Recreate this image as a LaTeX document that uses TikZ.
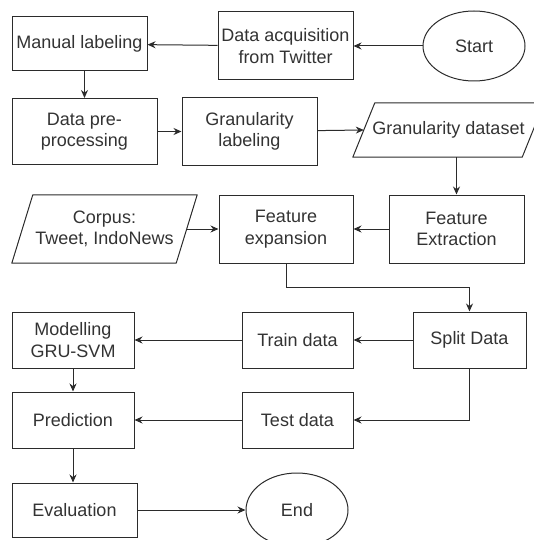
\documentclass[tikz,border=0pt]{standalone}
\usepackage{xcolor}
\usepackage{fontspec}
\setmainfont{Liberation Sans}
\usepackage{tikz}
\usetikzlibrary{calc,arrows.meta,shapes.geometric}
\definecolor{line}{HTML}{2B2B2B}
\definecolor{txt}{HTML}{333333}
\tikzset{
  box/.style={draw=line, line width=1pt, fill=white, text=txt, align=center,
    inner sep=0pt, font=\fontsize{18}{21.5}\selectfont},
  term/.style={box, ellipse},
  io/.style={text=txt, align=center, inner sep=0pt, font=\fontsize{18}{21.5}\selectfont},
  iobox/.style={draw=line, line width=1pt, line join=round},
  arr/.style={draw=line, line width=1pt, -{Stealth[length=8pt,width=7pt]}},
}

\begin{document}
\begin{tikzpicture}[x=1pt,y=-1pt]
  \useasboundingbox (0,0) rectangle (534,540);

  % row 1
  \node[box,minimum width=135,minimum height=54] (manual) at (79.5,44) {Manual labeling};
  \node[box,minimum width=135,minimum height=68] (acq) at (285.5,46) {Data acquisition\\from Twitter};
  \node[term,minimum width=102,minimum height=70] (start) at (474,46) {Start};

  % row 2
  \node[box,minimum width=145,minimum height=66] (prep) at (84.5,131.5) {Data pre-\\processing};
  \node[box,minimum width=135,minimum height=68] (granlab) at (249.5,131.5) {Granularity\\labeling};
  \node[io,minimum width=191,minimum height=54] (gset) at (448.5,130) {Granularity dataset};
  \draw[iobox] (gset.south west) -- ([xshift=22]gset.north west) -- (gset.north east)
    -- ([xshift=-22]gset.south east) -- cycle;
  \coordinate (gsetin) at ([xshift=11]gset.west);

  % row 3
  \node[io,minimum width=185,minimum height=68] (corpus) at (104.5,229) {Corpus:\\Tweet, IndoNews};
  \draw[iobox] (corpus.south west) -- ([xshift=21]corpus.north west) -- (corpus.north east)
    -- ([xshift=-21]corpus.south east) -- cycle;
  \coordinate (corpusout) at ([xshift=-10.5]corpus.east);
  \node[box,minimum width=134,minimum height=68] (featexp) at (286,229) {Feature\\expansion};
  \node[box,minimum width=135,minimum height=68] (featext) at (456.5,229) {Feature\\Extraction};

  % row 4
  \node[box,minimum width=122,minimum height=56] (model) at (73,340) {Modelling\\GRU-SVM};
  \node[box,minimum width=111,minimum height=56] (train) at (297.5,340) {Train data};
  \node[box,minimum width=113,minimum height=56] (split) at (469.5,340) {Split Data};

  % row 5
  \node[box,minimum width=122,minimum height=56] (pred) at (73,420) {Prediction};
  \node[box,minimum width=111,minimum height=56] (test) at (297.5,420) {Test data};

  % row 6
  \node[box,minimum width=125,minimum height=54] (eval) at (74.5,510) {Evaluation};
  \node[term,minimum width=102,minimum height=74] (end) at (297,510) {End};

  % flow
  \draw[arr] (start) -- (acq);
  \draw[arr] (acq) -- (manual);
  \draw[arr] (manual.south -| prep.north) -- (prep.north);
  \draw[arr] (prep) -- (granlab);
  \draw[arr] (granlab) -- (gsetin);
  \draw[arr] (gset.south -| featext.north) -- (featext.north);
  \draw[arr] (featext) -- (featexp);
  \draw[arr] (corpusout) -- (featexp.west |- corpusout);
  \draw[arr] (featexp.south) |- ($(featexp.south)!0.5!(split.north)$) -| (split.north);
  \draw[arr] (split) -- (train);
  \draw[arr] (train) -- (model);
  \draw[arr] (split.south) |- (test.east);
  \draw[arr] (test) -- (pred);
  \draw[arr] (model) -- (pred);
  \draw[arr] (pred.south) -- (pred.south |- eval.north);
  \draw[arr] (eval) -- (end);
\end{tikzpicture}
\end{document}
